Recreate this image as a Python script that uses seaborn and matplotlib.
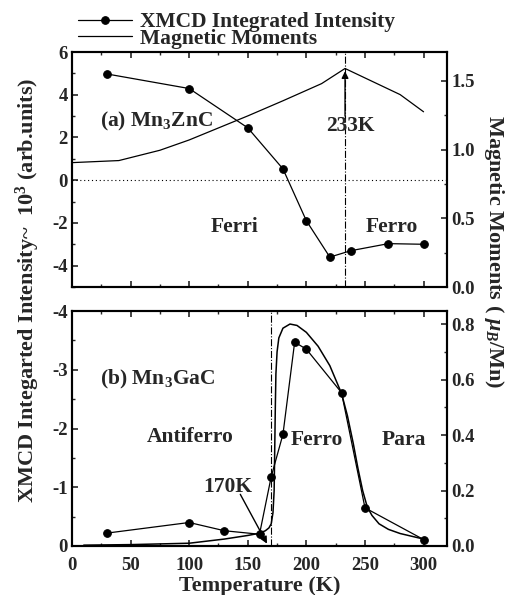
import matplotlib
matplotlib.use("Agg")
import matplotlib.pyplot as plt
import seaborn as sns
import numpy as np
from matplotlib.ticker import MultipleLocator, FormatStrFormatter

# ---------------- data ----------------
# (a) Mn3ZnC
T_zn = [30, 100, 150, 180, 200, 220, 238, 270, 300]
xmcd_zn = [4.97, 4.29, 2.45, 0.53, -1.9, -3.6, -3.3, -2.97, -3.0]
Tm_zn = [0, 40, 75, 100, 150, 180, 213, 233, 280, 300]
mom_zn = [0.905, 0.92, 0.995, 1.07, 1.245, 1.355, 1.48, 1.59, 1.40, 1.275]

# (b) Mn3GaC
T_ga = [30, 100, 130, 160, 170, 180, 190, 200, 230, 250, 300]
xmcd_ga = [-0.22, -0.40, -0.26, -0.20, -1.18, -1.90, -3.47, -3.35, -2.61, -0.65, -0.11]
Tm_ga = [10, 50, 100, 130, 150, 160, 165, 168, 170, 171.5, 172.5, 173, 173.5,
         174, 175, 176.5, 180, 186, 192, 200, 210, 220, 230, 235, 240, 244,
         248, 252, 256, 262, 270, 280, 290, 300]
mom_ga = [0.003, 0.005, 0.01, 0.025, 0.038, 0.046, 0.055, 0.065, 0.08, 0.12,
          0.2, 0.35, 0.5, 0.62, 0.70, 0.75, 0.785, 0.80, 0.795, 0.77, 0.72,
          0.65, 0.55, 0.47, 0.37, 0.28, 0.20, 0.14, 0.11, 0.08, 0.06, 0.045,
          0.035, 0.025]

legend_labels = ["XMCD Integrated Intensity", "Magnetic Moments"]

# ---------------- style ----------------
sns.set_theme(style="ticks")
plt.rcParams["font.family"] = ["Liberation Serif", "DejaVu Serif"]
plt.rcParams["font.weight"] = "bold"
plt.rcParams["axes.unicode_minus"] = False
plt.rcParams["mathtext.fontset"] = "custom"
plt.rcParams["mathtext.rm"] = "Liberation Serif:bold"
plt.rcParams["mathtext.it"] = "Liberation Serif:italic:bold"
plt.rcParams["mathtext.bf"] = "Liberation Serif:bold"

FS_TICK = 13.5
FS_LAB = 16
FS_TXT = 15.5

fig = plt.figure(figsize=(5.08, 5.95), dpi=100)
W, H = 508, 595
left = 72 / W
width = 375 / W
ax1 = fig.add_axes([left, 1 - 287 / H, width, 235 / H])
ax2 = fig.add_axes([left, 1 - 546 / H, width, 235 / H])
ax1r = ax1.twinx()
ax2r = ax2.twinx()

lw = 0.9
# ---- panel (a)
sns.lineplot(x=T_zn, y=xmcd_zn, ax=ax1, color="black", marker="o", markersize=5.5,
             markeredgecolor="black", linewidth=lw, estimator=None, sort=False,
             label=legend_labels[0], legend=False)
sns.lineplot(x=Tm_zn, y=mom_zn, ax=ax1r, color="black", linewidth=lw,
             estimator=None, sort=False, label=legend_labels[1], legend=False)
ax1.axhline(0, color="black", linestyle=(0, (1, 2.5)), linewidth=0.8)
ax1.axvline(233, color="black", linestyle="-.", linewidth=0.8)

# ---- panel (b)
sns.lineplot(x=T_ga, y=xmcd_ga, ax=ax2, color="black", marker="o", markersize=5.5,
             markeredgecolor="black", linewidth=lw, estimator=None, sort=False,
             legend=False)
sns.lineplot(x=Tm_ga, y=mom_ga, ax=ax2r, color="black", linewidth=1.1,
             estimator=None, sort=False, legend=False)
ax2.axvline(170, color="black", linestyle="-.", linewidth=0.8)

# ---- axes limits & ticks
for a in (ax1, ax2):
    a.set_xlim(0, 320)
    a.xaxis.set_major_locator(MultipleLocator(50))
    a.xaxis.set_minor_locator(MultipleLocator(25))

ax1.set_ylim(-5, 6)
ax1.yaxis.set_major_locator(MultipleLocator(2))
ax1.yaxis.set_minor_locator(MultipleLocator(1))
ax1r.set_ylim(0, 1.71)
ax1r.yaxis.set_major_locator(MultipleLocator(0.5))
ax1r.yaxis.set_minor_locator(MultipleLocator(0.25))
ax1r.yaxis.set_major_formatter(FormatStrFormatter("%.1f"))

ax2.set_ylim(0, -4)
ax2.yaxis.set_major_locator(MultipleLocator(1))
ax2.yaxis.set_minor_locator(MultipleLocator(0.5))
ax2r.set_ylim(0, 0.847)
ax2r.yaxis.set_major_locator(MultipleLocator(0.2))
ax2r.yaxis.set_minor_locator(MultipleLocator(0.1))
ax2r.yaxis.set_major_formatter(FormatStrFormatter("%.1f"))

for a in (ax1, ax2, ax1r, ax2r):
    a.tick_params(which="major", direction="in", length=4.5, width=1.2,
                  labelsize=FS_TICK, pad=3)
    a.tick_params(which="minor", direction="in", length=2.5, width=1.0)
    for s in a.spines.values():
        s.set_linewidth(1.5)
        s.set_color("black")
for a in (ax1, ax2):
    a.tick_params(which="both", top=True, bottom=True, left=True, right=False)
ax2.tick_params(axis="x", which="major", pad=8)
ax1.tick_params(labelbottom=False)
for a in (ax1r, ax2r):
    a.tick_params(which="both", right=True, left=False)

ax2.set_xlabel("Temperature (K)", fontsize=FS_LAB, fontweight="bold", labelpad=1)
for a in (ax1, ax1r, ax2r):
    a.set_ylabel("")
ax2.set_ylabel("")

# ---- texts
ax1.text(24, 2.74, "(a) Mn$_3$ZnC", fontsize=FS_TXT, fontweight="bold", va="center", ha="left")
ax1.text(139, -2.17, "Ferri", fontsize=FS_TXT, fontweight="bold", va="center", ha="center")
ax1.text(273, -2.17, "Ferro", fontsize=FS_TXT, fontweight="bold", va="center", ha="center")
ax1.text(237.6, 2.54, "233K", fontsize=FS_TXT, fontweight="bold", va="center", ha="center")
ax1.annotate("", xy=(233, 5.1), xytext=(233, 3.0),
             arrowprops=dict(arrowstyle="-|>", color="black", lw=1.0,
                             mutation_scale=10, shrinkA=0, shrinkB=0))

ax2.text(24, -2.83, "(b) Mn$_3$GaC", fontsize=FS_TXT, fontweight="bold", va="center", ha="left")
ax2.text(101, -1.86, "Antiferro", fontsize=FS_TXT, fontweight="bold", va="center", ha="center")
ax2.text(209, -1.8, "Ferro", fontsize=FS_TXT, fontweight="bold", va="center", ha="center")
ax2.text(283, -1.8, "Para", fontsize=FS_TXT, fontweight="bold", va="center", ha="center")
ax2.text(133, -1.0, "170K", fontsize=FS_TXT, fontweight="bold", va="center", ha="center")
ax2.annotate("", xy=(166.4, -0.04), xytext=(143.6, -0.88),
             arrowprops=dict(arrowstyle="-|>", color="black", lw=1.0,
                             mutation_scale=10, shrinkA=0, shrinkB=0))

fig.text(28 / W, 1 - 290 / H, "XMCD Integarted Intensity~  10$^3$ (arb.units)",
         rotation=90, ha="center", va="center", fontsize=FS_LAB, fontweight="bold")
fig.text(494 / W, 1 - 252 / H, r"Magnetic Moments ( $\mu_B$/Mn)",
         rotation=270, ha="center", va="center", fontsize=FS_LAB, fontweight="bold")

# ---- legend
h1 = ax1.get_lines()[0]
h2 = ax1r.get_lines()[0]
fig.legend([h1, h2], legend_labels, loc="upper left",
           bbox_to_anchor=(78 / W, 1 - 12 / H), frameon=False,
           handlelength=2.5, handletextpad=0.37, labelspacing=-0.15,
           borderpad=0, borderaxespad=0, prop={"weight": "bold", "size": FS_TXT})

fig.savefig("out.png", dpi=100)
